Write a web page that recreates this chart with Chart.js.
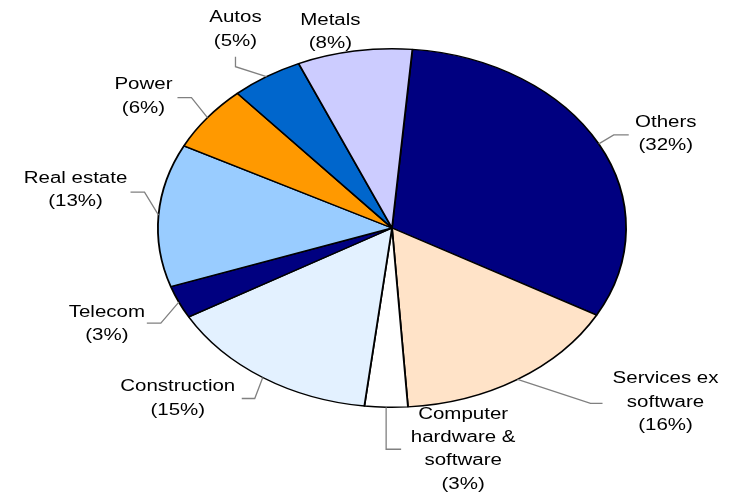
<!DOCTYPE html>
<html>
<head>
<meta charset="utf-8">
<script src="https://cdn.jsdelivr.net/npm/chart.js@4"></script>
<style>
  html, body { margin: 0; padding: 0; background: #ffffff; }
  #wrap { width: 731px; height: 492px; }
</style>
</head>
<body>
<div id="wrap"><canvas id="pie" width="731" height="492"></canvas></div>
<script>
// Sector split of the portfolio (share of total, %)
const categories = [
  ['Others'],
  ['Services ex', 'software'],
  ['Computer', 'hardware &', 'software'],
  ['Construction'],
  ['Telecom'],
  ['Real estate'],
  ['Power'],
  ['Autos'],
  ['Metals']
];
const shares = [32, 16, 3, 15, 3, 13, 6, 5, 8];
const sliceColors = ['#000080', '#FFE3C8', '#FFFFFF', '#E3F1FF', '#000080',
                     '#99CCFF', '#FF9900', '#0066CC', '#CCCCFF'];

// Leader-line layout per slice: elbow offset from the slice edge midpoint,
// run from the elbow, and label block centre offset from the end of the run.
const leaderLayout = [
  { elbow: [15, -9],  run: [15, 0],   text: [37, -1] },
  { elbow: [73, 24],  run: [12, 0],   text: [63, -1] },
  { elbow: [0, 42],   run: [15, 0],   text: [62, 0] },
  { elbow: [-8, 21],  run: [-13, 0],  text: [-64, 0] },
  { elbow: [-18, 21], run: [-14, 0],  text: [-40, 1] },
  { elbow: [-14, -23],run: [-14, 0],  text: [-55, -2] },
  { elbow: [-16, -20],run: [-14, 0],  text: [-34, -1] },
  { elbow: [-31, -10],run: [0, -10],  text: [0, -27] },
  { elbow: null,      run: null,      text: [-24, -19] }
];

const STRETCH_X = 235 / 180;   // pie is drawn as a wide ellipse
const TEXT_STRETCH = 1.28;     // labels share the same wide look
const LINE_H = 23.3;

const ellipsePie = {
  id: 'ellipsePie',
  beforeDatasetsDraw(chart) {
    const arc = chart.getDatasetMeta(0).data[0];
    const ctx = chart.ctx;
    ctx.save();
    ctx.translate(arc.x, arc.y);
    ctx.scale(STRETCH_X, 1);
    ctx.translate(-arc.x, -arc.y);
  },
  afterDatasetsDraw(chart) {
    const ctx = chart.ctx;
    ctx.restore();
    const arcs = chart.getDatasetMeta(0).data;
    const labels = chart.data.labels;
    const values = chart.data.datasets[0].data;
    ctx.save();
    ctx.font = '16px "Liberation Sans", Arial, sans-serif';
    ctx.fillStyle = '#000000';
    ctx.textAlign = 'center';
    ctx.textBaseline = 'middle';
    ctx.strokeStyle = '#808080';
    ctx.lineWidth = 1.3;
    arcs.forEach((a, i) => {
      const mid = (a.startAngle + a.endAngle) / 2;
      const px = a.x + a.outerRadius * STRETCH_X * Math.cos(mid);
      const py = a.y + a.outerRadius * Math.sin(mid);
      const lay = leaderLayout[i];
      let ex = px, ey = py;
      if (lay.elbow) {
        const bx = px + lay.elbow[0], by = py + lay.elbow[1];
        ex = bx + lay.run[0]; ey = by + lay.run[1];
        ctx.beginPath();
        ctx.moveTo(px, py);
        ctx.lineTo(bx, by);
        ctx.lineTo(ex, ey);
        ctx.stroke();
      }
      const cx = ex + lay.text[0], cy = ey + lay.text[1];
      const lines = [...labels[i], '(' + values[i] + '%)'];
      const top = cy - (lines.length - 1) * LINE_H / 2;
      lines.forEach((t, k) => {
        ctx.save();
        ctx.translate(cx, top + k * LINE_H);
        ctx.scale(TEXT_STRETCH, 1);
        ctx.fillText(t, 0, 0);
        ctx.restore();
      });
    });
    ctx.restore();
  }
};

new Chart(document.getElementById('pie'), {
  type: 'pie',
  data: {
    labels: categories,
    datasets: [{
      data: shares,
      backgroundColor: sliceColors,
      borderColor: '#000000',
      borderWidth: 1.4,
      hoverOffset: 0
    }]
  },
  options: {
    responsive: false,
    devicePixelRatio: 1,
    animation: false,
    rotation: 5,
    layout: { padding: { left: 157, right: 104, top: 48, bottom: 84 } },
    plugins: {
      legend: { display: false },
      tooltip: { enabled: false }
    },
    events: []
  },
  plugins: [ellipsePie]
});
</script>
</body>
</html>
